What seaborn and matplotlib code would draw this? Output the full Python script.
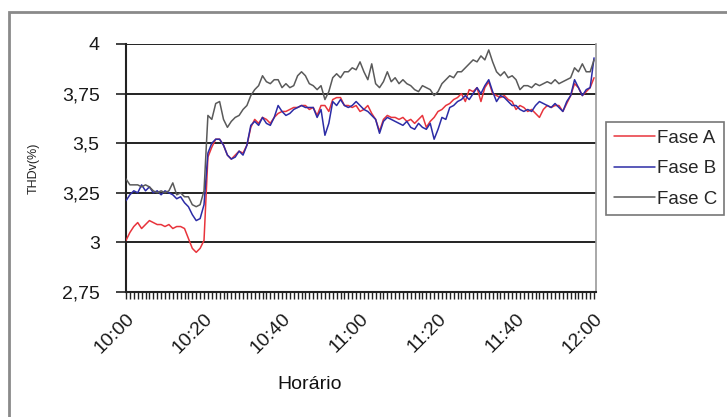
import numpy as np
import pandas as pd
import matplotlib
matplotlib.use("Agg")
import matplotlib.pyplot as plt
from matplotlib.patches import Rectangle
from matplotlib.ticker import MultipleLocator
import seaborn as sns

# THDv readings, one per minute from 10:00 to 12:00
fase_a = [3.01, 3.05, 3.08, 3.10, 3.07, 3.09, 3.11, 3.10, 3.09, 3.09,
          3.08, 3.09, 3.07, 3.08, 3.08, 3.07, 3.02, 2.97, 2.95, 2.97,
          3.01, 3.43, 3.48, 3.52, 3.52, 3.49, 3.44, 3.42, 3.44, 3.46,
          3.45, 3.49, 3.58, 3.62, 3.60, 3.63, 3.62, 3.60, 3.63, 3.65,
          3.66, 3.66, 3.67, 3.68, 3.68, 3.69, 3.69, 3.67, 3.68, 3.64,
          3.69, 3.69, 3.66, 3.72, 3.73, 3.73, 3.69, 3.69, 3.68, 3.69,
          3.66, 3.67, 3.69, 3.65, 3.62, 3.56, 3.62, 3.64, 3.63, 3.63,
          3.62, 3.63, 3.61, 3.62, 3.60, 3.62, 3.64, 3.58, 3.61, 3.63,
          3.66, 3.67, 3.69, 3.70, 3.72, 3.73, 3.75, 3.71, 3.77, 3.76,
          3.78, 3.71, 3.78, 3.81, 3.75, 3.74, 3.73, 3.74, 3.72, 3.71,
          3.67, 3.69, 3.68, 3.66, 3.67, 3.65, 3.63, 3.67, 3.69, 3.68,
          3.69, 3.69, 3.66, 3.70, 3.74, 3.80, 3.78, 3.74, 3.76, 3.78,
          3.83]

fase_b = [3.21, 3.24, 3.26, 3.25, 3.29, 3.26, 3.28, 3.25, 3.26, 3.24,
          3.26, 3.25, 3.24, 3.22, 3.23, 3.20, 3.18, 3.14, 3.11, 3.12,
          3.19, 3.45, 3.50, 3.52, 3.52, 3.49, 3.44, 3.42, 3.43, 3.46,
          3.44, 3.49, 3.59, 3.61, 3.59, 3.63, 3.60, 3.59, 3.63, 3.69,
          3.66, 3.64, 3.65, 3.67, 3.68, 3.69, 3.68, 3.68, 3.68, 3.63,
          3.67, 3.54, 3.60, 3.71, 3.69, 3.72, 3.69, 3.68, 3.69, 3.71,
          3.69, 3.67, 3.66, 3.64, 3.62, 3.55, 3.61, 3.63, 3.62, 3.61,
          3.60, 3.59, 3.61, 3.58, 3.57, 3.60, 3.58, 3.57, 3.60, 3.52,
          3.57, 3.63, 3.62, 3.68, 3.69, 3.71, 3.72, 3.74, 3.72, 3.75,
          3.78, 3.75, 3.79, 3.82, 3.76, 3.71, 3.74, 3.73, 3.71, 3.69,
          3.69, 3.67, 3.66, 3.67, 3.66, 3.69, 3.71, 3.70, 3.69, 3.68,
          3.70, 3.68, 3.66, 3.71, 3.74, 3.82, 3.78, 3.74, 3.77, 3.78,
          3.93]

fase_c = [3.32, 3.29, 3.29, 3.29, 3.28, 3.29, 3.28, 3.26, 3.25, 3.26,
          3.25, 3.26, 3.30, 3.24, 3.25, 3.23, 3.23, 3.19, 3.18, 3.19,
          3.26, 3.64, 3.62, 3.70, 3.71, 3.62, 3.58, 3.61, 3.63, 3.64,
          3.67, 3.69, 3.74, 3.77, 3.79, 3.84, 3.81, 3.80, 3.82, 3.82,
          3.78, 3.80, 3.78, 3.79, 3.84, 3.86, 3.84, 3.80, 3.79, 3.77,
          3.79, 3.72, 3.76, 3.83, 3.85, 3.83, 3.86, 3.86, 3.88, 3.87,
          3.91, 3.86, 3.82, 3.90, 3.80, 3.78, 3.81, 3.86, 3.81, 3.83,
          3.80, 3.82, 3.80, 3.79, 3.77, 3.76, 3.79, 3.78, 3.77, 3.74,
          3.76, 3.80, 3.82, 3.84, 3.83, 3.86, 3.86, 3.88, 3.90, 3.92,
          3.91, 3.94, 3.92, 3.97, 3.91, 3.86, 3.84, 3.86, 3.83, 3.84,
          3.82, 3.77, 3.79, 3.79, 3.78, 3.80, 3.79, 3.80, 3.81, 3.80,
          3.82, 3.80, 3.81, 3.82, 3.83, 3.88, 3.86, 3.90, 3.86, 3.86,
          3.92]

series_names = ["Fase A", "Fase B", "Fase C"]
series_colors = ["#e8343c", "#2c2ca6", "#5a5a5a"]
time_labels = ["10:00", "10:20", "10:40", "11:00", "11:20", "11:40", "12:00"]
y_labels = ["2,75", "3", "3,25", "3,5", "3,75", "4"]
y_ticks = [2.75, 3.0, 3.25, 3.5, 3.75, 4.0]

minutes = np.arange(len(fase_a))
df = pd.DataFrame({
    "minuto": np.concatenate([minutes, minutes, minutes]),
    "THDv": np.concatenate([fase_a, fase_b, fase_c]),
    "Fase": np.repeat(series_names, len(minutes)),
})

sns.set_theme(style="white")
plt.rcParams["font.family"] = ["Liberation Sans", "DejaVu Sans"]

W, H = 727, 417
fig = plt.figure(figsize=(W / 100, H / 100), dpi=100)
fig.patch.set_facecolor("white")

# outer chart frame
fig.add_artist(Rectangle((9 / W, -0.05), 1.1, 1 - 12 / H + 0.05,
                         transform=fig.transFigure, fill=False,
                         edgecolor="#8a8a8a", linewidth=2.0))

ax = fig.add_axes([126 / W, 1 - 292 / H, (596 - 126) / W, (292 - 44) / H])

for yv in y_ticks[1:]:
    ax.axhline(yv, color="#222222", linewidth=1.4, zorder=1)

sns.lineplot(data=df, x="minuto", y="THDv", hue="Fase",
             palette=dict(zip(series_names, series_colors)),
             linewidth=1.1, ax=ax, zorder=3, legend=True)

ax.set_xlim(0, 120.5)
ax.set_ylim(2.75, 4.0)

ax.set_yticks(y_ticks)
ax.set_yticklabels(y_labels, fontsize=14, color="#1a1a1a")
ax.set_xticks(np.arange(0, 121, 20))
ax.set_xticklabels(time_labels, fontsize=14, color="#1a1a1a",
                   rotation=45, ha="right", rotation_mode="anchor")
ax.xaxis.set_minor_locator(MultipleLocator(1))
ax.tick_params(axis="x", which="both", direction="out", length=5,
               width=1.0, color="#222222", bottom=True, pad=8)
ax.tick_params(axis="y", which="major", direction="out", length=7,
               width=1.2, color="#222222", left=True, pad=12)

for side in ["left", "bottom"]:
    ax.spines[side].set_color("#222222")
    ax.spines[side].set_linewidth(1.5)
ax.spines["top"].set_visible(False)
ax.spines["right"].set_color("#9a9a9a")
ax.spines["right"].set_linewidth(1.2)

ax.set_xlabel("Horário", fontsize=14, color="#111111")
ax.xaxis.set_label_coords((310 - 126) / (596 - 126), -0.34)
ax.set_ylabel("THDv(%)", fontsize=9, color="#222222")
ax.yaxis.set_label_coords(-(126 - 40) / (596 - 126), 0.5)

leg = ax.legend(loc="upper left", bbox_to_anchor=(606 / W, 1 - 122 / H),
                bbox_transform=fig.transFigure, frameon=True, fancybox=False,
                fontsize=13.5, handlelength=2.2, handletextpad=0.1,
                labelspacing=0.72, borderpad=0.4, borderaxespad=0)
leg.get_frame().set_edgecolor("#555555")
leg.get_frame().set_linewidth(1.2)
for line in leg.get_lines():
    line.set_linewidth(1.1)

fig.savefig("out.png", dpi=100)
